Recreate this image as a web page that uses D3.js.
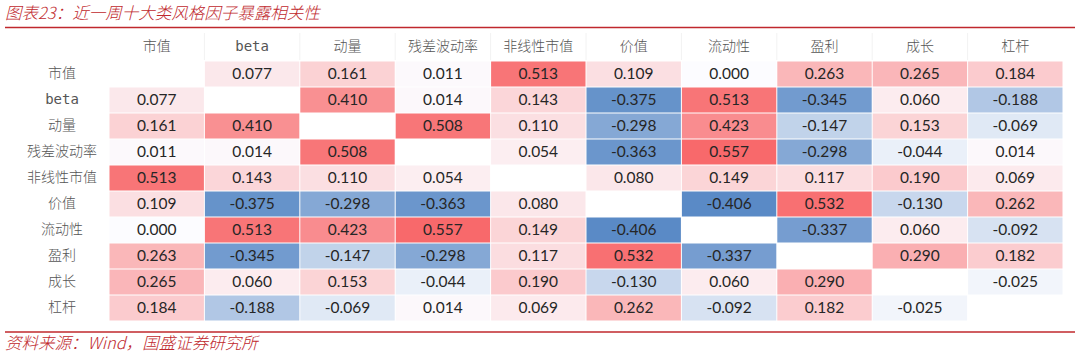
<!DOCTYPE html>
<html><head><meta charset="utf-8">
<script src="https://cdn.jsdelivr.net/npm/d3@7"></script>
<style>
html,body{margin:0;padding:0;background:#fff;}
svg{display:block;}
</style></head>
<body>
<svg id="chart" width="1080" height="355"></svg>
<script>
const title = "图表23：近一周十大类风格因子暴露相关性";
const source = "资料来源：Wind，国盛证券研究所";
const factors = ["市值","beta","动量","残差波动率","非线性市值","价值","流动性","盈利","成长","杠杆"];
const row_市值 =     [null, 0.077, 0.161, 0.011, 0.513, 0.109, 0.000, 0.263, 0.265, 0.184];
const row_beta =     [0.077, null, 0.410, 0.014, 0.143, -0.375, 0.513, -0.345, 0.060, -0.188];
const row_动量 =     [0.161, 0.410, null, 0.508, 0.110, -0.298, 0.423, -0.147, 0.153, -0.069];
const row_残差波动率 = [0.011, 0.014, 0.508, null, 0.054, -0.363, 0.557, -0.298, -0.044, 0.014];
const row_非线性市值 = [0.513, 0.143, 0.110, 0.054, null, 0.080, 0.149, 0.117, 0.190, 0.069];
const row_价值 =     [0.109, -0.375, -0.298, -0.363, 0.080, null, -0.406, 0.532, -0.130, 0.262];
const row_流动性 =   [0.000, 0.513, 0.423, 0.557, 0.149, -0.406, null, -0.337, 0.060, -0.092];
const row_盈利 =     [0.263, -0.345, -0.147, -0.298, 0.117, 0.532, -0.337, null, 0.290, 0.182];
const row_成长 =     [0.265, 0.060, 0.153, -0.044, 0.190, -0.130, 0.060, 0.290, null, -0.025];
const row_杠杆 =     [0.184, -0.188, -0.069, 0.014, 0.069, 0.262, -0.092, 0.182, -0.025, null];
const matrix = [row_市值,row_beta,row_动量,row_残差波动率,row_非线性市值,row_价值,row_流动性,row_盈利,row_成长,row_杠杆];

const cells = [];
matrix.forEach((r,i)=>r.forEach((v,j)=>cells.push({row:factors[i],col:factors[j],v})));
const vals = cells.filter(d=>d.v!==null).map(d=>d.v);

const svg = d3.select("#chart");
const red = "#c0282d";
const cjk = "'Noto Sans CJK SC','Noto Sans',sans-serif";
const num = "Lato,'Open Sans',sans-serif";
const mono = "'DejaVu Sans Mono','Liberation Mono',monospace";
const fmt = v => d3.format(".3f")(v).replace("\u2212","-");

const x = d3.scaleBand().domain(factors).range([109,1063]).paddingInner(0);
const y = d3.scaleBand().domain(factors).range([61,321]).paddingInner(0);
const color = d3.scaleLinear()
  .domain([d3.min(vals),0,d3.max(vals)])
  .range(["#5A8AC6","#FCFCFF","#F8696B"]);

// title
svg.append("text").attr("x",5).attr("y",19).text(title)
  .attr("fill",red).attr("font-family",cjk).attr("font-size",16.5)
  .attr("font-style","italic").attr("font-weight",300);
svg.append("line").attr("x1",5).attr("x2",1075).attr("y1",27.5).attr("y2",27.5)
  .attr("stroke",red).attr("stroke-width",1.5);
svg.append("line").attr("x1",5).attr("x2",1075).attr("y1",332).attr("y2",332)
  .attr("stroke",red).attr("stroke-width",1.5);
svg.append("text").attr("x",5).attr("y",349).text(source)
  .attr("fill",red).attr("font-family",cjk).attr("font-size",16.5)
  .attr("font-style","italic").attr("font-weight",300);

// header separators
const hdr = svg.append("g");
hdr.selectAll("line").data(factors.slice(1)).join("line")
  .attr("x1",d=>x(d)).attr("x2",d=>x(d)).attr("y1",33).attr("y2",60)
  .attr("stroke","#f2f2f2");
hdr.selectAll("text").data(factors).join("text")
  .attr("x",d=>x(d)+x.bandwidth()/2).attr("y",47).attr("text-anchor","middle")
  .attr("dominant-baseline","middle")
  .attr("font-family",d=>d==="beta"?mono:cjk).attr("font-size",14)
  .attr("font-weight",300)
  .attr("fill","#555").text(d=>d);

// row labels
svg.append("g").selectAll("text").data(factors).join("text")
  .attr("x",62).attr("y",d=>y(d)+y.bandwidth()/2).attr("text-anchor","middle")
  .attr("dominant-baseline","middle")
  .attr("font-family",d=>d==="beta"?mono:cjk).attr("font-size",14)
  .attr("font-weight",300)
  .attr("fill","#555").text(d=>d);

// cells
const g = svg.append("g");
g.selectAll("rect").data(cells.filter(d=>d.v!==null)).join("rect")
  .attr("x",d=>x(d.col)+0.5).attr("y",d=>y(d.row)+0.5)
  .attr("width",x.bandwidth()-1).attr("height",y.bandwidth()-1)
  .attr("fill",d=>color(d.v));
g.selectAll("text").data(cells.filter(d=>d.v!==null)).join("text")
  .attr("x",d=>x(d.col)+x.bandwidth()/2).attr("y",d=>y(d.row)+y.bandwidth()/2+1)
  .attr("text-anchor","middle").attr("dominant-baseline","middle")
  .attr("font-family",num).attr("font-size",15.5).attr("fill","#262626")
  .text(d=>fmt(d.v));
</script>
</body></html>
